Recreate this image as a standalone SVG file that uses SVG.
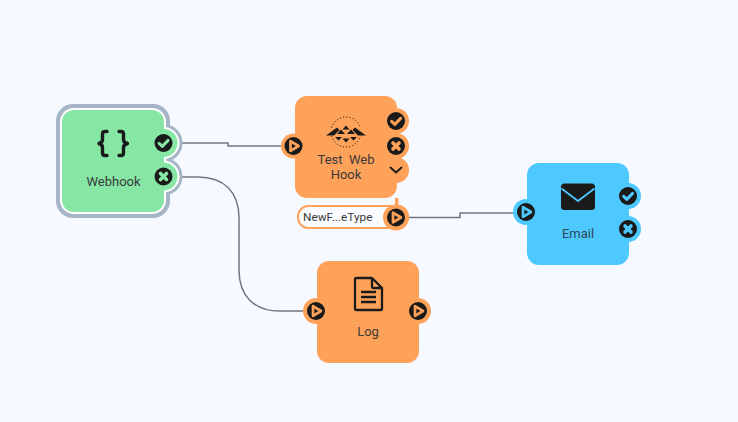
<svg xmlns="http://www.w3.org/2000/svg" width="738" height="422" viewBox="0 0 738 422">
  <style>
    .wire { fill: none; stroke: #72767d; stroke-width: 1.500; }
    .orange { fill: #ffa259; }
    .blue { fill: #4dc9ff; }
    .green { fill: #86e6a4; }
    .port { fill: #1a1a1a; }
    .tick { fill: none; stroke-linecap: round; stroke-linejoin: round; stroke-width: 3; }
    .cross { fill: none; stroke-linecap: round; stroke-width: 3.600; }
    .play { fill: none; stroke-width: 2.700; stroke-linejoin: round; }
    .label { font-family: Roboto, "Liberation Sans", sans-serif; font-size: 13px; fill: #3a3a3a; text-anchor: middle; }
    .icon { fill: none; stroke: #1a1a1a; }
  </style>
  <defs>
    <!-- Port badges, drawn around the origin -->
    <g id="play-o"><circle class="port" r="9"/><path class="play" stroke="#ffa259" d="M-3 -4.800 5 0-3 4.800Z"/></g>
    <g id="play-b"><circle class="port" r="9"/><path class="play" stroke="#4dc9ff" d="M-3 -4.800 5 0-3 4.800Z"/></g>
    <g id="ok-o"><circle class="port" r="9"/><path class="tick" stroke="#ffa259" d="M-4.400 .4-1.200 3.400 4.600-2.600"/></g>
    <g id="no-o"><circle class="port" r="9"/><path class="cross" stroke="#ffa259" d="M-3 -3 3 3M3 -3-3 3"/></g>
    <g id="ok-b"><circle class="port" r="9"/><path class="tick" stroke="#4dc9ff" d="M-4.400 .4-1.200 3.400 4.600-2.600"/></g>
    <g id="no-b"><circle class="port" r="9"/><path class="cross" stroke="#4dc9ff" d="M-3 -3 3 3M3 -3-3 3"/></g>
    <g id="ok-g"><circle class="port" r="9"/><path class="tick" stroke="#86e6a4" d="M-4.400 .4-1.200 3.400 4.600-2.600"/></g>
    <g id="no-g"><circle class="port" r="9"/><path class="cross" stroke="#86e6a4" d="M-3 -3 3 3M3 -3-3 3"/></g>
  </defs>

  <rect width="738" height="422" fill="#f6f9ff"/>

  <g id="connectors">
    <path class="wire" d="M178 143H228V146H282"/>
    <path class="wire" d="M178 177H198C224 177 239 192 239 218V270C239 296 254 311 280 311H305"/>
    <path class="wire" d="M409 217.500H460V213H515"/>
  </g>

  <g id="node-webhook">
    <!-- Selection ring: grey outside, white gap, then the green body -->
    <g fill="#a6b5c6">
      <rect x="56" y="104" width="114" height="114" rx="17"/>
      <circle cx="163.500" cy="143" r="19"/>
      <circle cx="163.500" cy="176.500" r="19"/>
    </g>
    <g fill="#fff">
      <rect x="60" y="108" width="106" height="106" rx="14"/>
      <circle cx="163.500" cy="143" r="16"/>
      <circle cx="163.500" cy="176.500" r="16"/>
    </g>
    <g class="green">
      <rect x="62" y="110" width="102" height="102" rx="12"/>
      <circle cx="163.500" cy="143" r="14"/>
      <circle cx="163.500" cy="176.500" r="14"/>
    </g>
    <path class="icon" stroke-width="3.400" stroke-linecap="round" stroke-linejoin="round" d="M107 131.500H105Q102.500 131.500 102.500 134V139.500Q102.500 142.500 99 143.500Q102.500 144.500 102.500 147.500V153Q102.500 155.500 105 155.500H107M119 131.500H121Q123.500 131.500 123.500 134V139.500Q123.500 142.500 127.500 143.500Q123.500 144.500 123.500 147.500V153Q123.500 155.500 121 155.500H119"/>
    <text class="label" x="113.500" y="186">Webhook</text>
    <use href="#ok-g" x="163.500" y="143"/>
    <use href="#no-g" x="163.500" y="176.500"/>
  </g>

  <g id="node-test-web-hook">
    <g class="orange">
      <rect x="395" y="198" width="3.500" height="8"/>
      <rect x="295" y="96" width="102" height="102" rx="12"/>
      <circle cx="293.500" cy="146" r="12.500"/>
      <circle cx="396" cy="121" r="13"/>
      <circle cx="396" cy="146" r="13"/>
      <circle cx="396" cy="170" r="13"/>
    </g>
    <!-- Emblem: dotted circle behind a winged band of triangles -->
    <circle cx="346" cy="132" r="15" fill="none" stroke="#1a1a1a" stroke-width="1" stroke-dasharray="1.200 2"/>
    <path fill="#ffa259" d="M328 128H364V136H328Z"/>
    <path fill="#1a1a1a" d="M326 135.500 337 127.500 339.500 130 334 135.500ZM366 135.500 355 127.500 352.500 130 358 135.500ZM337 134 341 129.500 345 134ZM342.500 129.500 346 125.500 349.500 129.500ZM347 134 351 129.500 355 134ZM335 137H342L338.500 140.500ZM342.500 138.500H349.500L346 142.500ZM350 137H357L353.500 140.500Z"/>
    <text class="label" x="346" y="163.500" xml:space="preserve">Test  Web</text>
    <text class="label" x="346" y="179">Hook</text>
    <use href="#play-o" x="293.500" y="146"/>
    <use href="#ok-o" x="396" y="121"/>
    <use href="#no-o" x="396" y="146"/>
    <path fill="none" stroke="#1a1a1a" stroke-width="1.800" stroke-linecap="round" stroke-linejoin="round" d="M390.500 167.500 396 172.500 401.500 167.500"/>
  </g>

  <g id="field-newfiletype">
    <rect x="298" y="206" width="110" height="22" rx="10.500" fill="#fbfcff" stroke="#ffa259" stroke-width="2"/>
    <circle class="orange" cx="396" cy="217.500" r="13"/>
    <text x="303" y="220.500" font-family="Roboto, 'Liberation Sans', sans-serif" font-size="11.800" fill="#3a3a3a">NewF...eType</text>
    <use href="#play-o" x="396" y="217.500"/>
  </g>

  <g id="node-email">
    <g class="blue">
      <rect x="527" y="163" width="102" height="102" rx="12"/>
      <circle cx="526" cy="212" r="13"/>
      <circle cx="628" cy="196" r="13"/>
      <circle cx="628" cy="229" r="13"/>
    </g>
    <rect x="561" y="183.500" width="34" height="26.500" rx="3.500" fill="#1a1a1a"/>
    <path fill="none" stroke="#4dc9ff" stroke-width="1.800" stroke-linejoin="round" d="M561.500 188.500 578 201 594.500 188.500"/>
    <text class="label" x="578" y="238" style="fill:#30485a">Email</text>
    <use href="#play-b" x="526" y="212"/>
    <use href="#ok-b" x="628" y="196"/>
    <use href="#no-b" x="628" y="229"/>
  </g>

  <g id="node-log">
    <g class="orange">
      <rect x="317" y="261" width="102" height="102" rx="12"/>
      <circle cx="316" cy="311" r="13"/>
      <circle cx="418" cy="311" r="13"/>
    </g>
    <path class="icon" stroke-width="2.300" stroke-linejoin="round" d="M372 278H356.500Q355 278 355 279.500V308.500Q355 310 356.500 310H380.500Q382 310 382 308.500V288ZM372 278V286.500Q372 288 373.500 288H382"/>
    <path class="icon" stroke-width="2.300" d="M361 292H376M361 297H376M361 302H376"/>
    <text class="label" x="368" y="336">Log</text>
    <use href="#play-o" x="316" y="311"/>
    <use href="#play-o" x="418" y="311"/>
  </g>
</svg>
